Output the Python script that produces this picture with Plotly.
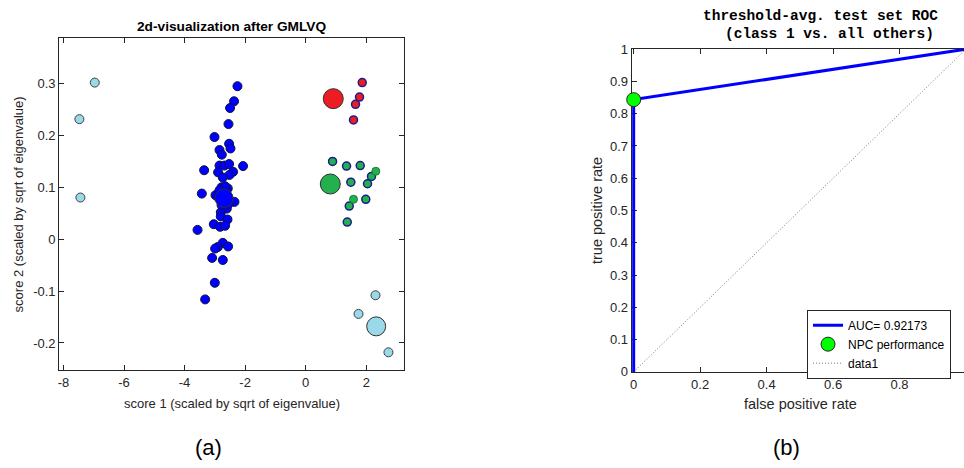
import plotly.graph_objects as go

W, H = 964, 468

# ---------------- panel (a): GMLVQ projection ----------------
blue_x = [-2.254, -2.366, -2.498, -2.550, -3.012, -2.530, -2.484, -2.847, -2.771, -3.354,
          -2.847, -2.682, -2.530, -2.069, -2.893, -2.399, -2.517, -2.738, -2.781, -2.573,
          -3.430, -2.979, -2.353, -2.606, -2.804, -2.804, -2.583, -3.035, -2.827, -2.662,
          -3.572, -2.738, -2.903, -2.992, -2.563, -3.091, -2.738, -3.002, -3.321,
          -2.62, -2.88, -2.55, -2.78, -2.66, -2.85]
blue_y = [0.295, 0.266, 0.253, 0.222, 0.197, 0.184, 0.175, 0.172, 0.163, 0.133,
          0.142, 0.142, 0.145, 0.141, 0.129, 0.130, 0.124, 0.119, 0.100, 0.098,
          0.088, 0.085, 0.072, 0.059, 0.052, 0.044, 0.038, 0.029, 0.024, 0.026,
          0.018, -0.007, -0.015, -0.018, -0.014, -0.036, -0.040, -0.084, -0.116,
          0.092, 0.080, 0.068, 0.066, 0.102, 0.094]

red_x = [1.865, 1.776, 1.644, 1.578]
red_y = [0.302, 0.274, 0.260, 0.230]

green_x = [0.886, 1.348, 1.799, 2.171, 2.040, 1.489, 1.983, 1.437, 1.371]
green_y = [0.150, 0.141, 0.142, 0.121, 0.107, 0.110, 0.077, 0.064, 0.033]
green_plain_x = [2.313, 1.578]
green_plain_y = [0.131, 0.077]

cyan_x = [-6.965, -7.473, -7.440, 2.303, 1.743, 2.731]
cyan_y = [0.302, 0.2315, 0.0804, -0.108, -0.144, -0.218]

# prototypes: blue, red, green, light blue
proto_x = [-2.695, 0.909, 0.811, 2.326]
proto_y = [0.079, 0.271, 0.1065, -0.168]

a_xticks = [-8, -6, -4, -2, 0, 2]
a_xticklabels = ["-8", "-6", "-4", "-2", "0", "2"]
a_yticks = [-0.2, -0.1, 0, 0.1, 0.2, 0.3]
a_yticklabels = ["-0.2", "-0.1", "0", "0.1", "0.2", "0.3"]

# ---------------- panel (b): ROC ----------------
roc_fpr = [0, 0, 1]
roc_tpr = [0, 0.84346, 1]
npc_fpr = [0]
npc_tpr = [0.84346]
diag_x = [0, 1]
diag_y = [0, 1]
auc_label = "AUC= 0.92173"

b_xticks = [0, 0.2, 0.4, 0.6, 0.8, 1]
b_yticks = [0, 0.1, 0.2, 0.3, 0.4, 0.5, 0.6, 0.7, 0.8, 0.9, 1]
b_yticklabels = ["0", "0.1", "0.2", "0.3", "0.4", "0.5", "0.6", "0.7", "0.8", "0.9", "1"]

RED = "#ED1C24"
GREEN = "#22B14C"
CYAN = "#99D9EA"
BLUE = "#0000FF"
NAVY = "#1C1C8C"
AX = "#262626"
FONT = "Liberation Sans, Arial, sans-serif"

fig = go.Figure()

# panel (a) data points
fig.add_trace(go.Scatter(x=blue_x, y=blue_y, mode="markers", xaxis="x", yaxis="y",
                         marker=dict(size=9, color=BLUE, opacity=1,
                                     line=dict(color="#101040", width=1)),
                         showlegend=False, cliponaxis=False))
fig.add_trace(go.Scatter(x=red_x, y=red_y, mode="markers", xaxis="x", yaxis="y",
                         marker=dict(size=8, color=RED, opacity=1,
                                     line=dict(color=NAVY, width=1.5)),
                         showlegend=False, cliponaxis=False))
fig.add_trace(go.Scatter(x=green_x, y=green_y, mode="markers", xaxis="x", yaxis="y",
                         marker=dict(size=8, color=GREEN, opacity=1,
                                     line=dict(color=NAVY, width=1.5)),
                         showlegend=False, cliponaxis=False))
fig.add_trace(go.Scatter(x=green_plain_x, y=green_plain_y, mode="markers", xaxis="x", yaxis="y",
                         marker=dict(size=8, color=GREEN, opacity=1,
                                     line=dict(color="#1E7A3A", width=1)),
                         showlegend=False, cliponaxis=False))
fig.add_trace(go.Scatter(x=cyan_x, y=cyan_y, mode="markers", xaxis="x", yaxis="y",
                         marker=dict(size=9, color=CYAN, opacity=1,
                                     line=dict(color="#404040", width=1)),
                         showlegend=False, cliponaxis=False))
# prototypes
fig.add_trace(go.Scatter(x=proto_x, y=proto_y, mode="markers", xaxis="x", yaxis="y",
                         marker=dict(size=[18, 20, 20, 19], color=[BLUE, RED, GREEN, CYAN],
                                     opacity=1, line=dict(color="#303030", width=1)),
                         showlegend=False, cliponaxis=False))

# panel (b)
fig.add_trace(go.Scatter(x=diag_x, y=diag_y, mode="lines", xaxis="x2", yaxis="y2",
                         line=dict(color="#555555", width=0.8, dash="1px,2px"),
                         name="data1", legendrank=3))
fig.add_trace(go.Scatter(x=roc_fpr, y=roc_tpr, mode="lines", xaxis="x2", yaxis="y2",
                         line=dict(color=BLUE, width=3),
                         name=auc_label, legendrank=1))
fig.add_trace(go.Scatter(x=npc_fpr, y=npc_tpr, mode="markers", xaxis="x2", yaxis="y2",
                         marker=dict(size=14, color="#00FF00", opacity=1,
                                     line=dict(color="#262626", width=1)),
                         name="NPC performance", legendrank=2, cliponaxis=False))

axis_common = dict(showgrid=False, zeroline=False, showline=True, linecolor=AX, linewidth=1,
                   ticks="inside", ticklen=5, tickcolor=AX, tickwidth=1,
                   tickfont=dict(family=FONT, size=13, color=AX))

fig.update_layout(
    width=W, height=H,
    margin=dict(l=0, r=0, t=0, b=0),
    paper_bgcolor="white", plot_bgcolor="white",
    font=dict(family=FONT, color=AX),
    xaxis=dict(domain=[57.3 / W, 402.7 / W], range=[-8.14, 3.24],
               tickmode="array", tickvals=a_xticks, ticktext=a_xticklabels,
               mirror="ticks", anchor="y", **axis_common),
    yaxis=dict(domain=[1 - 375.5 / H, 1 - 32 / H], range=[-0.253, 0.388],
               tickmode="array", tickvals=a_yticks, ticktext=a_yticklabels,
               mirror="ticks", anchor="x", **axis_common),
    xaxis2=dict(domain=[631 / W, 1.0], range=[-0.006, 0.994],
                tickmode="array", tickvals=b_xticks,
                mirror="ticks", anchor="y2", layer="below traces", **axis_common),
    yaxis2=dict(domain=[1 - 377 / H, 1 - 43.5 / H], range=[0, 1],
                tickmode="array", tickvals=b_yticks, ticktext=b_yticklabels,
                anchor="x2", layer="below traces", **axis_common),
    legend=dict(x=806.7 / W, y=1 - 312.7 / H, xanchor="left", yanchor="top",
                bgcolor="white", bordercolor=AX, borderwidth=1,
                font=dict(family=FONT, size=12, color="#000000"),
                tracegroupgap=0, itemwidth=30),
)


def px_note(text, x, y, size, bold=False, family=FONT, angle=0, color=AX, yanchor="middle"):
    fig.add_annotation(text=f"<b>{text}</b>" if bold else text,
                       x=x / W, y=1 - y / H, xref="paper", yref="paper",
                       xanchor="center", yanchor=yanchor, showarrow=False, borderpad=0,
                       textangle=angle, font=dict(family=family, size=size, color=color))


px_note("2d-visualization after GMLVQ", 230, 20.5, 13.7, bold=True, color="#000000")
px_note("score 1 (scaled by sqrt of eigenvalue)", 230, 410, 13)
px_note("score 2 (scaled by sqrt of eigenvalue)", 16, 204, 13, angle=-90)

MONO = "Liberation Mono, Courier New, monospace"
px_note("threshold-avg. test set ROC", 820, 0, 14.5, bold=True, family=MONO,
        color="#000000", yanchor="top")
px_note("(class 1 vs. all others)", 829, 19, 14.5, bold=True, family=MONO,
        color="#000000", yanchor="top")
px_note("false positive rate", 800, 410, 14.5)
px_note("true positive rate", 597, 210, 14.5, angle=-90)

px_note("(a)", 207, 455, 22, color="#000000")
px_note("(b)", 786, 455, 22, color="#000000")

fig.write_html("out.html")
